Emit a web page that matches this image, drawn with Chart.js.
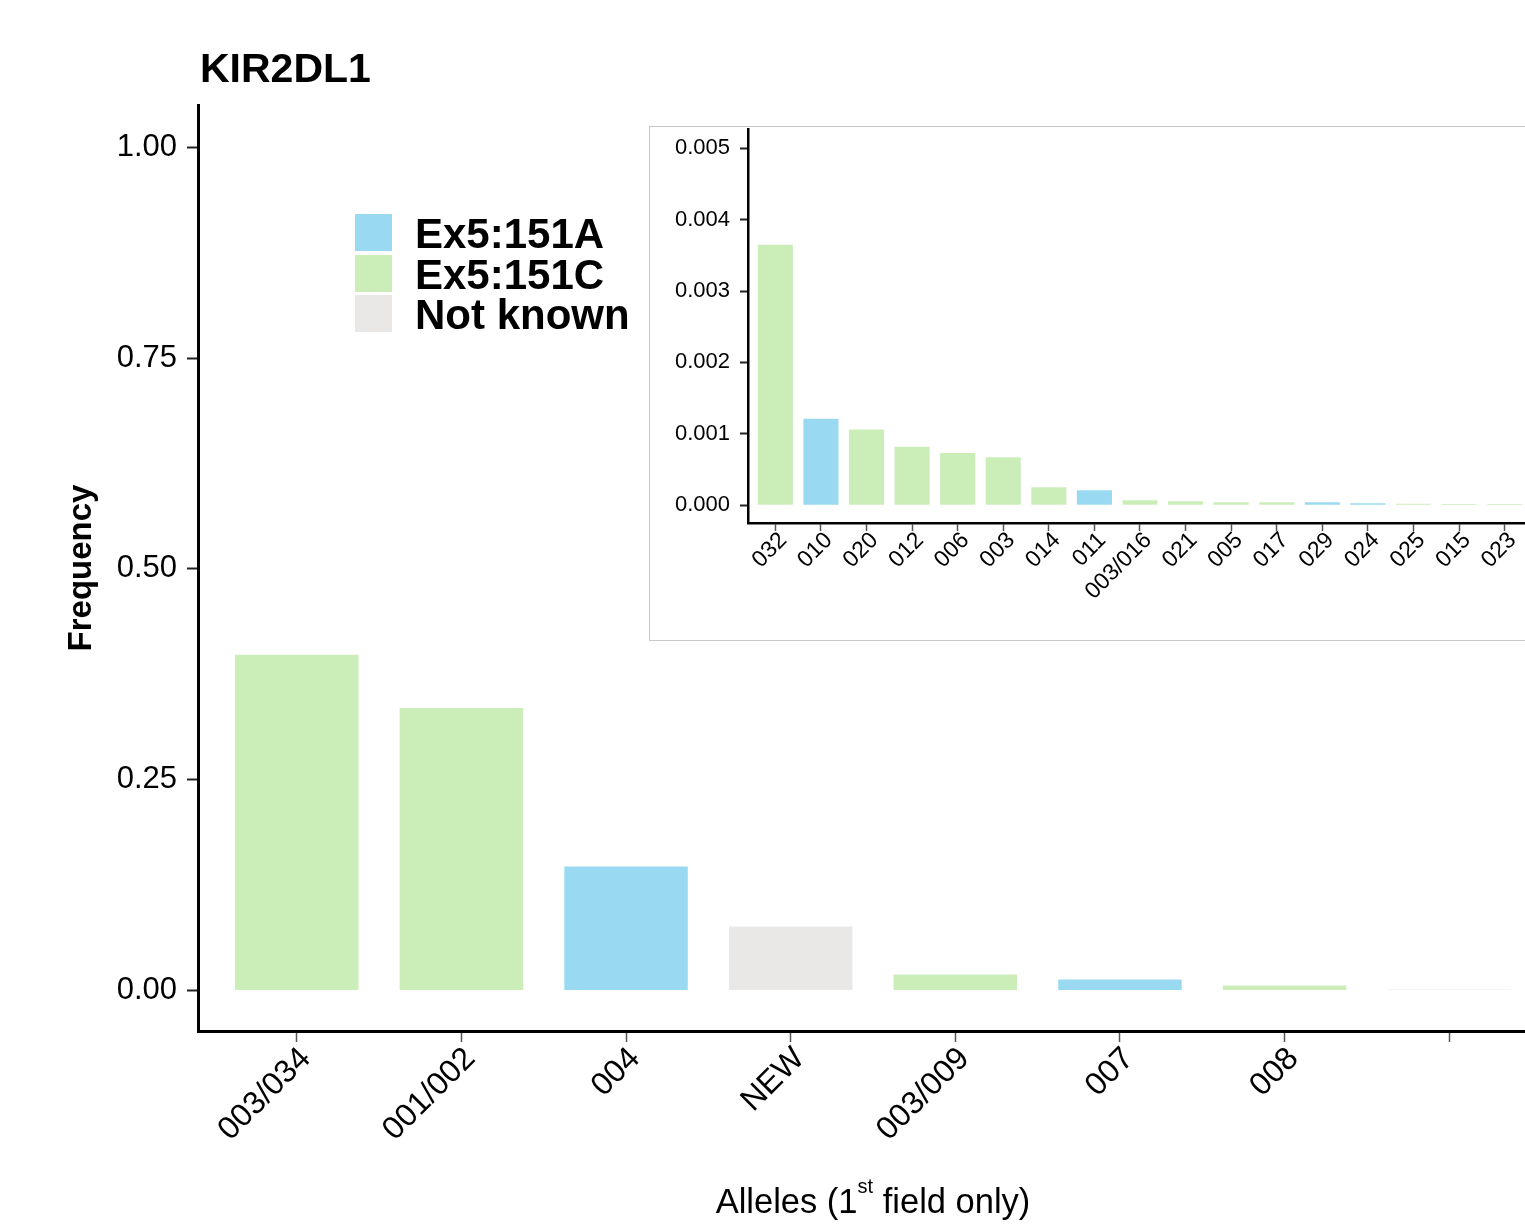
<!DOCTYPE html>
<html>
<head>
<meta charset="utf-8">
<script src="https://cdn.jsdelivr.net/npm/chart.js@4.4.1/dist/chart.umd.min.js"></script>
<style>
body { margin:0; background:#fff; width:1525px; height:1224px; overflow:hidden; font-family:"Liberation Sans", Arial, sans-serif; }
#wrap { position:relative; width:1560px; height:1224px; }
#mainChart { position:absolute; left:0; top:0; }
#insetBox { position:absolute; left:649px; top:126px; border:1px solid #c8c8c8; background:#fff; width:910px; height:513px; overflow:hidden; }
#insetChart { position:absolute; left:0; top:-30px; }
#title { position:absolute; left:200px; top:48px; font-size:41px; font-weight:bold; line-height:1; }
#xtitle { position:absolute; left:873px; top:1184px; transform:translateX(-50%); font-size:34.5px; line-height:1; white-space:nowrap; }
#xtitle span { font-size:20px; position:relative; top:-20px; }
.leg { position:absolute; left:355px; height:37px; font-size:42px; font-weight:bold; line-height:37px; white-space:nowrap; }
.leg i { display:inline-block; width:37px; height:37px; vertical-align:top; margin-right:23px; }
.leg b { position:relative; top:1px; }
</style>
</head>
<body>
<div id="wrap">
<canvas id="mainChart" width="1560" height="1224"></canvas>
<div id="title">KIR2DL1</div>
<div id="xtitle">Alleles (1<span>st</span> field only)</div>
<div id="legend"></div>
<div id="insetBox"><canvas id="insetChart" width="910" height="543"></canvas></div>
</div>
<script>
// main panel
const mainLabels = ["003/034","001/002","004","NEW","003/009","007","008",""]
const mainValues = [0.398,0.335,0.147,0.076,0.019,0.013,0.006,0.0013]
const mainTypes = ["C","C","A","N","C","A","C","N"]

// inset panel (rare alleles)
const insetLabels = ["032","010","020","012","006","003","014","011","003/016","021","005","017","029","024","025","015","023"]
const insetValues = [0.00365,0.00121,0.00106,0.00082,0.00073,0.00067,0.00025,0.00021,0.00007,0.000056,0.000042,0.000042,0.000042,0.000028,0.00002,0.000016,0.000016]
const insetTypes = ["C","A","C","C","C","C","C","A","C","C","C","C","A","A","C","C","C"]

const legendKeys = ["A","C","N"]
const legendNames = ["Ex5:151A","Ex5:151C","Not known"]
const typeColors = { A:"#9ad9f2", C:"#cbeeb9", N:"#e9e8e7" }

Chart.defaults.font.family = '"Liberation Sans", Arial, sans-serif'
Chart.defaults.color = "#000"
Chart.defaults.animation = false

let legendHtml = ""
legendKeys.forEach((k,i) => {
  legendHtml += '<div class="leg" style="top:' + (214 + i*40.5) + 'px"><i style="background:' + typeColors[k] + '"></i><b>' + legendNames[i] + '</b></div>'
})
document.getElementById("legend").innerHTML = legendHtml

function makeChart(id, labels, values, types, opt){
  return new Chart(document.getElementById(id), {
    type: "bar",
    data: {
      datasets: [{
        data: values.map((v,i) => ({x:i, y:v})),
        backgroundColor: types.map(t => typeColors[t]),
        borderWidth: 0,
        categoryPercentage: 1,
        barPercentage: opt.barPct
      }]
    },
    options: {
      responsive: false,
      layout: { padding: opt.padding },
      plugins: { legend: { display:false }, tooltip: { enabled:false } },
      scales: {
        x: {
          type: "linear",
          min: -0.6,
          max: labels.length - 0.4,
          offset: false,
          afterFit: s => { s.height = opt.xHeight },
          ticks: {
            stepSize: 1,
            autoSkip: false,
            includeBounds: false,
            minRotation: 45,
            maxRotation: 45,
            padding: opt.xPad,
            labelOffset: opt.xShift,
            font: { size: opt.xFont },
            callback: v => labels[v] ?? ""
          },
          grid: { offset:false, drawOnChartArea:false, tickLength: opt.tick, color:"#555", tickWidth:1.5 },
          border: { color:"#000", width: opt.axisW }
        },
        y: {
          min: opt.ymin,
          max: opt.ymax,
          afterFit: s => { s.width = opt.yWidth },
          ticks: {
            stepSize: opt.step,
            includeBounds: false,
            padding: opt.yPad,
            font: { size: opt.yFont },
            callback: v => v.toFixed(opt.dec)
          },
          grid: { drawOnChartArea:false, tickLength: opt.tick, color:"#222", tickWidth:2 },
          border: { color:"#000", width: opt.axisW },
          title: opt.ytitle
        }
      }
    }
  })
}

makeChart("mainChart", mainLabels, mainValues, mainTypes, {
  barPct: 0.75, padding: { top:105, right:12, left:0, bottom:0 },
  xHeight: 193, xPad: -2, xShift: 9, xFont: 32, tick: 11, axisW: 3,
  ymin: -0.048, ymax: 1.05, yWidth: 198, step: 0.25, yPad: 10, yFont: 31, dec: 2,
  ytitle: { display:true, text:"Frequency", font:{ size:33, weight:"bold" }, padding:{ top:62, bottom:0 } }
})

makeChart("insetChart", insetLabels, insetValues, insetTypes, {
  barPct: 0.77, padding: { top:32, right:28, left:0, bottom:0 },
  xHeight: 117, xPad: -4, xShift: 8, xFont: 23, tick: 8, axisW: 2.5,
  ymin: -0.00025, ymax: 0.00527, yWidth: 98, step: 0.001, yPad: 10, yFont: 22, dec: 3,
  ytitle: { display:false }
})
</script>
</body>
</html>
